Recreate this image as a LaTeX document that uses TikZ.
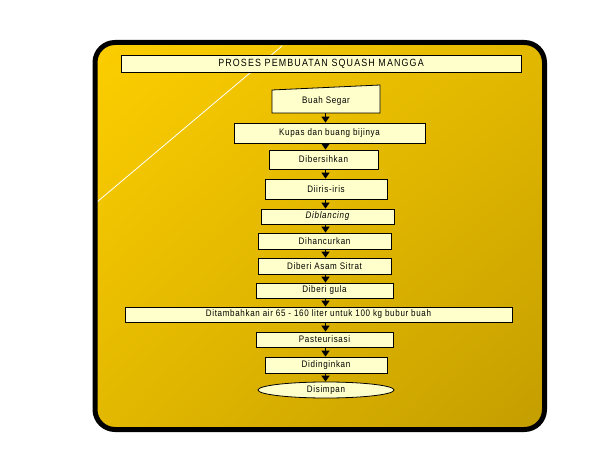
\documentclass[tikz,border=0pt]{standalone}
\usepackage{xcolor}
\usepackage{fontspec}
\usepackage{tikz}
\usetikzlibrary{arrows.meta,shapes.geometric,shadings}
\newfontfamily\boxfont[LetterSpace=7,FakeStretch=0.85]{Liberation Sans}
\newfontfamily\ttlfont[LetterSpace=11,FakeStretch=0.85]{Liberation Sans}
\definecolor{cream}{RGB}{255,255,204}
\definecolor{gold1}{RGB}{252,206,0}
\definecolor{gold2}{RGB}{226,184,0}
\definecolor{gold3}{RGB}{196,158,0}
\tikzset{
  prc/.style ={rectangle,draw,fill=cream,line width=0.8bp,inner sep=0pt,font=\boxfont\fontsize{9.5}{10}\selectfont},
  ttl/.style ={rectangle,draw,fill=cream,line width=0.8bp,inner sep=0pt,font=\ttlfont\fontsize{10.5}{11}\selectfont},
  endn/.style={ellipse,draw,fill=cream,line width=0.8bp,inner sep=0pt,font=\boxfont\fontsize{9.5}{10}\selectfont},
  frame/.style={line width=5bp,rounded corners=20bp},
  ar/.style={-{Triangle[length=6bp,width=8bp]},line width=1.8bp},
}
\begin{document}
\begin{tikzpicture}[x=1bp,y=-1bp]
  \useasboundingbox (0,0) rectangle (612,468);
  % panel with gradient and the glare stroke
  \shade[frame,upper left=gold1,upper right=gold2,lower left=gold2,lower right=gold3]
    (95,42.5) rectangle (544.5,429.5);
  \draw[white,line width=0.8bp] (282,46) -- (97,202);
  \draw[frame] (95,42.5) rectangle (544.5,429.5);
  \coordinate (spine) at (325.5,0);
  \node[ttl,minimum width=400bp,minimum height=17bp] (ttl) at (321,63.5){PROSES PEMBUATAN SQUASH MANGGA};
  % first box has a slanted top edge
  \filldraw[fill=cream,line width=0.8bp] (272,113) -- (272,90) -- (380,85) -- (380,113) -- cycle;
  \node[font=\boxfont\fontsize{9.5}{10}\selectfont,minimum width=108bp,minimum height=23bp,inner sep=0pt] (buah) at (326,101.5){Buah Segar};
  \node[prc,minimum width=191bp,minimum height=20bp] (kupas)   at (329.5,133){Kupas dan buang bijinya};
  \node[prc,minimum width=109bp,minimum height=19bp] (bersih)  at (323.5,159.5){Dibersihkan};
  \node[prc,minimum width=122bp,minimum height=20bp] (iris)    at (326,189){Diiris-iris};
  \node[prc,minimum width=133bp,minimum height=15bp] (blanch)  at (327.5,216.5){\itshape Diblancing};
  \node[prc,minimum width=133bp,minimum height=16bp] (hancur)  at (324.5,241){Dihancurkan};
  \node[prc,minimum width=133bp,minimum height=16bp] (sitrat)  at (324.5,266){Diberi Asam Sitrat};
  \node[prc,minimum width=137bp,minimum height=15bp] (gula)    at (324.5,290.5){Diberi gula};
  \node[prc,minimum width=387bp,minimum height=15bp] (air)     at (318.5,314.5){Ditambahkan air 65 - 160 liter untuk 100 kg bubur buah};
  \node[prc,minimum width=137bp,minimum height=15bp] (pasteur) at (324.5,339.5){Pasteurisasi};
  \node[prc,minimum width=122bp,minimum height=16bp] (dingin)  at (326,365){Didinginkan};
  \node[endn,minimum width=136bp,minimum height=16bp] (simpan) at (326,390){Disimpan};
  \foreach \a/\b in {buah/kupas,kupas/bersih,bersih/iris,iris/blanch,blanch/hancur,hancur/sitrat,
                     sitrat/gula,gula/air,air/pasteur,pasteur/dingin,dingin/simpan}
    \draw[ar] (\a.south -| spine) -- (\b.north -| spine);
\end{tikzpicture}
\end{document}
